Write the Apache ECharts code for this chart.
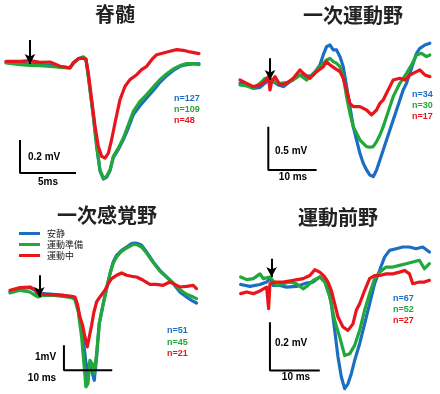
<!DOCTYPE html>
<html><head><meta charset="utf-8">
<script src="https://cdn.jsdelivr.net/npm/echarts@6/dist/echarts.min.js"></script>
<style>html,body{margin:0;padding:0;background:#fff}#c{width:440px;height:394px}</style>
</head><body><div id="c"></div>
<script>
// ---- labels ----
const seriesNames = ['安静', '運動準備', '運動中'];
const panelTitles = ['脊髄', '一次運動野', '一次感覚野', '運動前野'];
const nLabels = [['n=127','n=109','n=48'], ['n=34','n=30','n=17'], ['n=51','n=45','n=21'], ['n=67','n=52','n=27']];
const scaleLabelsV = ['0.2 mV', '0.5 mV', '1mV', '0.2 mV'];
const scaleLabelsH = ['5ms', '10 ms', '10 ms', '10 ms'];
// scale bar sizes [ms, mV]
const scaleSizes = [[5, 0.2], [10, 0.5], [10, 1], [10, 0.2]];
// scale bar origin (corner) [ms, mV]
const scaleOrigins = [[1.25, -0.673], [5.86, -1.0], [11.17, -3.16], [5.87, -0.359]];
// stimulus arrows [ms, mV top, mV tip]
const arrows = [[2.14, 0.133, -0.012], [6.21, 0.288, 0.038], [6.07, 0.64, -0.227], [6.2, 0.103, 0.028]];

// ---- Panel 1: 脊髄 (time ms, voltage mV) ----
const p1Blue = [[0,-0.002],[1.25,-0.008],[2.14,-0.012],[3.04,-0.016],[3.93,-0.02],[4.82,-0.03],[5.71,-0.036],[6.01,-0.006],[6.46,0.02],[6.9,0.03],[7.14,0.018],[7.35,-0.087],[7.8,-0.33],[8.1,-0.515],[8.39,-0.66],[8.69,-0.709],[8.99,-0.698],[9.29,-0.658],[9.58,-0.58],[10.03,-0.53],[10.48,-0.47],[10.92,-0.4],[11.37,-0.319],[11.96,-0.265],[12.56,-0.218],[13.15,-0.172],[13.75,-0.123],[14.35,-0.083],[14.94,-0.051],[15.54,-0.026],[16.13,-0.016],[16.73,-0.012],[17.23,-0.01]];
const p1Green = [[0,-0.006],[1.25,-0.016],[2.14,-0.02],[3.04,-0.022],[3.93,-0.026],[4.82,-0.032],[5.71,-0.036],[6.01,-0.006],[6.46,0.02],[6.9,0.03],[7.14,0.018],[7.35,-0.087],[7.8,-0.329],[8.1,-0.511],[8.39,-0.653],[8.69,-0.703],[8.99,-0.693],[9.29,-0.653],[9.58,-0.572],[10.03,-0.521],[10.48,-0.461],[10.92,-0.38],[11.37,-0.299],[11.96,-0.238],[12.56,-0.198],[13.15,-0.152],[13.75,-0.107],[14.35,-0.071],[14.94,-0.042],[15.54,-0.022],[16.13,-0.01],[16.73,-0.01],[17.23,-0.016]];
const p1Red = [[0,0.004],[1.25,0.004],[2.14,0.008],[3.04,-0.002],[3.93,0],[4.82,-0.026],[5.71,-0.036],[6.01,-0.006],[6.46,0.02],[6.9,0.024],[7.14,0.014],[7.35,-0.067],[7.65,-0.228],[7.95,-0.39],[8.24,-0.511],[8.54,-0.572],[8.84,-0.582],[9.14,-0.552],[9.43,-0.471],[9.73,-0.37],[10.18,-0.228],[10.63,-0.147],[11.07,-0.107],[11.67,-0.077],[12.11,-0.046],[12.56,-0.026],[13.01,0.014],[13.45,0.044],[14.05,0.055],[14.64,0.065],[15.24,0.075],[15.83,0.071],[16.43,0.061],[17.23,0.051]];

// ---- Panel 2: 一次運動野 ----
const p2Blue = [[0,0],[1.38,-0.019],[2.76,-0.058],[4.14,-0.046],[5.52,0.019],[6.21,0.058],[6.9,0.019],[7.93,-0.019],[8.97,-0.038],[10.34,0.019],[12.41,0.096],[13.79,0.077],[15.17,0.096],[16.55,0.212],[17.24,0.327],[17.93,0.423],[18.62,0.442],[19.31,0.385],[20,0.385],[20.69,0.308],[21.38,0.192],[22.07,-0.038],[22.76,-0.269],[23.45,-0.5],[24.14,-0.654],[24.83,-0.808],[25.52,-0.923],[26.21,-1.0],[26.9,-1.058],[27.59,-1.077],[28.28,-1.0],[28.97,-0.885],[29.66,-0.769],[30.34,-0.654],[31.03,-0.538],[31.72,-0.423],[32.41,-0.308],[33.1,-0.192],[33.79,-0.077],[34.48,0],[35.17,0.115],[35.86,0.231],[36.55,0.346],[37.24,0.404],[38.28,0.442],[39.31,0.462]];
const p2Green = [[0,-0.019],[1.38,-0.031],[2.76,-0.058],[4.14,0],[5.17,0.058],[6.21,0.038],[7.24,0.019],[8.28,0],[9.66,0.008],[11.03,0.038],[12.41,0.096],[13.79,0.038],[15.17,0.115],[16.55,0.192],[17.93,0.269],[18.62,0.288],[19.31,0.25],[20,0.231],[20.69,0.192],[21.38,0.077],[22.07,-0.154],[22.76,-0.346],[23.45,-0.5],[24.14,-0.577],[24.83,-0.654],[25.52,-0.692],[26.21,-0.731],[26.9,-0.738],[27.59,-0.731],[28.28,-0.673],[28.97,-0.596],[29.66,-0.5],[30.34,-0.385],[31.03,-0.269],[31.72,-0.154],[33.1,0],[34.48,0.115],[35.52,0.212],[36.55,0.327],[37.59,0.346],[38.62,0.308],[39.31,0.327]];
const p2Red = [[0,0.038],[1.38,0],[2.76,-0.038],[4.14,-0.019],[5.17,0.019],[5.86,0.077],[6.21,-0.077],[6.55,0.019],[7.24,0.077],[8.28,-0.019],[9.66,0],[11.03,0.058],[12.41,0.154],[13.1,0.115],[14.48,0.058],[15.86,0.135],[17.24,0.192],[17.93,0.25],[18.62,0.212],[19.66,0.173],[20.69,0.135],[21.38,0.058],[22.07,-0.077],[22.76,-0.231],[23.45,-0.269],[24.83,-0.269],[26.21,-0.308],[27.24,-0.365],[28.28,-0.308],[28.97,-0.231],[29.66,-0.192],[30.34,-0.115],[31.03,-0.038],[31.72,0.038],[33.1,0.058],[34.14,0.038],[35.17,0.096],[36.55,0.135],[37.24,0.154],[38.28,0.096],[39.31,0.077]];

// ---- Panel 3: 一次感覚野 ----
const p3Blue = [[0,-0.027],[2.07,0.107],[4.14,0.147],[5.17,0.04],[5.86,-0.16],[6.9,-0.093],[8.97,-0.12],[11.03,-0.16],[12.76,-0.227],[13.45,-0.293],[14.14,-0.76],[14.83,-1.56],[15.52,-2.493],[16.0,-3.427],[16.41,-2.893],[16.9,-3.16],[17.45,-3.56],[17.93,-2.627],[18.48,-1.293],[19.31,-0.493],[20,0.107],[20.69,0.707],[21.38,1.173],[22.07,1.44],[23.1,1.64],[24.14,1.773],[25.17,1.907],[25.86,1.933],[26.55,1.907],[27.24,1.84],[28.28,1.573],[29.66,1.173],[31.03,0.84],[32.41,0.573],[33.79,0.307],[35.17,-0.027],[36.55,-0.227],[37.59,-0.36],[38.62,-0.467]];
const p3Green = [[0,-0.067],[2.07,0.04],[4.14,-0.027],[5.17,-0.16],[5.86,-0.227],[6.9,-0.16],[8.97,-0.16],[11.03,-0.2],[12.76,-0.253],[13.45,-0.333],[14.14,-0.827],[14.83,-1.827],[15.31,-2.893],[15.72,-3.827],[16.14,-3.693],[16.55,-2.76],[17.03,-2.893],[17.45,-3.293],[17.93,-2.493],[18.48,-1.293],[19.31,-0.493],[20,0.107],[20.69,0.68],[21.38,1.133],[22.07,1.373],[23.1,1.6],[24.14,1.733],[25.17,1.84],[25.86,1.88],[26.55,1.84],[27.24,1.773],[28.28,1.533],[29.66,1.147],[31.03,0.813],[32.41,0.573],[33.79,0.333],[35.17,0.067],[36.55,-0.12],[37.59,-0.2],[38.62,-0.293]];
const p3Red = [[0,0.04],[2.07,0.147],[4.14,0.173],[5.17,0.067],[5.86,-0.093],[6.9,-0.12],[8.97,-0.133],[11.03,-0.16],[12.76,-0.2],[13.45,-0.227],[13.93,-0.493],[14.48,-1.027],[15.03,-1.36],[15.52,-1.827],[16.0,-2.227],[16.41,-1.827],[16.9,-1.36],[17.38,-0.827],[17.93,-0.427],[18.62,-0.227],[19.66,0.04],[20.34,0.307],[21.03,0.507],[22.07,0.64],[23.1,0.733],[24.14,0.64],[25.17,0.6],[26.21,0.573],[27.59,0.44],[28.97,0.28],[30.34,0.28],[31.72,0.24],[33.1,0.373],[33.79,0.307],[35.17,0.173],[36.55,0.2],[37.93,0.24],[38.62,0.107]];

// ---- Panel 4: 運動前野 ----
const p4Blue = [[0,-0.003],[1.87,-0.011],[3.87,-0.003],[5.2,0.007],[5.87,0.021],[6.53,-0.007],[7.87,-0.007],[9.2,-0.014],[11.2,-0.011],[13.2,0.003],[14.53,0.007],[15.87,0.028],[16.87,0.014],[17.53,-0.014],[18.2,-0.083],[18.87,-0.193],[19.53,-0.303],[20.2,-0.386],[20.87,-0.434],[21.53,-0.414],[22.2,-0.372],[22.87,-0.317],[23.87,-0.248],[24.87,-0.166],[25.87,-0.083],[26.87,0],[27.87,0.055],[28.87,0.11],[29.87,0.138],[31.2,0.145],[32.53,0.152],[33.87,0.152],[35.2,0.145],[36.53,0.152],[37.87,0.131]];
const p4Green = [[0,0.028],[1.2,0.017],[2.53,0.021],[3.87,0.041],[4.53,0.021],[5.87,0.028],[7.2,-0.007],[8.53,0],[9.87,0.007],[11.2,0],[12.53,-0.021],[13.53,-0.007],[14.53,0.014],[15.87,0.028],[16.87,0.007],[17.87,-0.055],[18.87,-0.152],[19.87,-0.221],[20.87,-0.297],[21.87,-0.29],[22.87,-0.255],[23.87,-0.193],[24.87,-0.11],[25.87,-0.041],[26.87,0.021],[27.87,0.048],[29.2,0.069],[30.53,0.069],[31.87,0.076],[33.2,0.083],[34.53,0.09],[35.87,0.097],[36.87,0.062],[37.87,0.083]];
const p4Red = [[0,-0.041],[1.2,-0.034],[2.53,-0.041],[3.87,-0.03],[5.2,-0.014],[5.6,-0.103],[5.87,0],[6.87,0.007],[8.53,0.007],[10.53,0.014],[12.53,0.021],[13.87,0.034],[14.87,0.058],[15.87,0.048],[16.87,0.028],[17.53,0.007],[18.2,-0.028],[18.87,-0.083],[19.53,-0.138],[20.53,-0.179],[21.53,-0.193],[22.53,-0.166],[23.2,-0.11],[23.87,-0.083],[24.87,-0.028],[25.87,0.021],[26.87,0.034],[27.87,0.034],[29.2,0.041],[30.53,0.041],[31.87,0.048],[32.87,0.055],[33.87,0.041],[34.53,0],[35.87,0.007],[36.87,0.007],[37.87,0.014]];

const panelData = [[p1Blue, p1Green, p1Red], [p2Blue, p2Green, p2Red], [p3Blue, p3Green, p3Red], [p4Blue, p4Green, p4Red]];
const colors = ['#1b6ec2', '#22a83a', '#e8161c'];

// layout (pixels) and axis ranges
const grids = [
  {left: 6, top: 29, width: 201.6, height: 165},
  {left: 240, top: 31.3, width: 198, height: 164.7},
  {left: 10, top: 216.3, width: 198, height: 175},
  {left: 240.7, top: 235.4, width: 200, height: 157.1}
];
const xRanges = [[0, 18], [0, 41], [0, 41], [0, 40]];
const yRanges = [[-0.8, 0.2], [-1.3, 0.6], [-4.0, 3.0], [-0.45, 0.2]];
const titlePos = [[115, 14], [353, 15], [107, 215], [338, 217]];
const nPos = [[174, 99], [412, 95], [167, 331], [393, 299]];
const nGap = [11, 10.8, 11.2, 11];
const vLabelPos = [[28, 157], [275, 151], [35, 357], [275, 343]];
const hLabelPos = [[48, 182], [293, 177], [42, 378], [296, 377]];

const series = [];
const graphic = [];
for (let p = 0; p < 4; p++) {
  for (let s = 0; s < 3; s++) {
    series.push({
      type: 'line', name: seriesNames[s], xAxisIndex: p, yAxisIndex: p,
      data: panelData[p][s], showSymbol: false, symbol: 'none', animation: false,
      lineStyle: {color: colors[s], width: 3.2, join: 'round', cap: 'round'},
      itemStyle: {color: colors[s]}, z: 2 + s
    });
  }
  const o = scaleOrigins[p], sz = scaleSizes[p], a = arrows[p];
  series.push({
    type: 'line', name: 'scale' + p, xAxisIndex: p, yAxisIndex: p, animation: false,
    data: [[o[0], o[1] + sz[1]], [o[0], o[1]], [o[0] + sz[0], o[1]]],
    showSymbol: false, symbol: 'none', lineStyle: {color: '#000', width: 2}, z: 10,
    markLine: {
      silent: true, animation: false, symbol: ['none', 'arrow'], symbolSize: [8, 10],
      label: {show: false}, lineStyle: {color: '#000', width: 2, type: 'solid'},
      data: [[{coord: [a[0], a[1]]}, {coord: [a[0], a[2]]}]]
    }
  });
  graphic.push({type: 'text', x: titlePos[p][0], y: titlePos[p][1], style: {
    text: panelTitles[p], fill: '#222', font: 'bold 20px "Noto Sans CJK JP"',
    textAlign: 'center', textVerticalAlign: 'middle'}});
  for (let s = 0; s < 3; s++) {
    graphic.push({type: 'text', x: nPos[p][0], y: nPos[p][1] + s * nGap[p], style: {
      text: nLabels[p][s], fill: colors[s], font: 'bold 9px "Liberation Sans"',
      textAlign: 'left', textVerticalAlign: 'middle'}});
  }
  graphic.push({type: 'text', x: vLabelPos[p][0], y: vLabelPos[p][1], style: {
    text: scaleLabelsV[p], fill: '#000', font: 'bold 10px "Liberation Sans"',
    textAlign: 'left', textVerticalAlign: 'middle'}});
  graphic.push({type: 'text', x: hLabelPos[p][0], y: hLabelPos[p][1], style: {
    text: scaleLabelsH[p], fill: '#000', font: 'bold 10px "Liberation Sans"',
    textAlign: 'center', textVerticalAlign: 'middle'}});
}

const chart = echarts.init(document.getElementById('c'), null, {renderer: 'canvas'});
chart.setOption({
  animation: false,
  grid: grids,
  xAxis: grids.map((g, i) => ({type: 'value', gridIndex: i, min: xRanges[i][0], max: xRanges[i][1], show: false})),
  yAxis: grids.map((g, i) => ({type: 'value', gridIndex: i, min: yRanges[i][0], max: yRanges[i][1], show: false})),
  legend: {
    data: seriesNames, orient: 'vertical', left: 19, top: 229, itemWidth: 21, itemHeight: 3,
    itemGap: 2, icon: 'rect', padding: 0, selectedMode: false,
    textStyle: {fontSize: 9, color: '#222', fontFamily: '"Noto Sans CJK JP"', padding: [0, 0, 0, 2]}
  },
  series: series,
  graphic: graphic
});
</script></body></html>
